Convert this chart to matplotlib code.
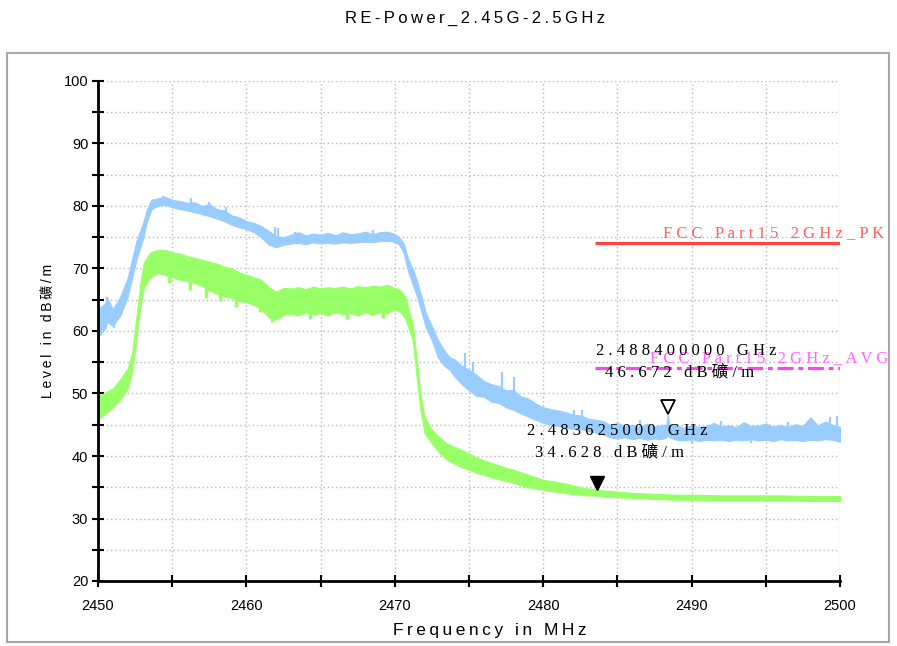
import matplotlib
matplotlib.use('Agg')
import matplotlib.pyplot as plt
from matplotlib.ticker import MultipleLocator
from matplotlib.patches import Rectangle
from matplotlib.transforms import offset_copy

blue_freq = [2450.0, 2450.5, 2450.6, 2451.0, 2451.5, 2452.0, 2452.3, 2452.6, 2453.0, 2453.3, 2453.6,
             2454.0, 2454.5, 2455.0, 2455.5, 2456.0, 2456.5, 2457.0, 2457.5, 2458.0, 2458.5, 2459.0, 2459.5,
             2460.0, 2460.5, 2461.0, 2461.5, 2462.0, 2462.5, 2463.0, 2463.5, 2464.0, 2464.5, 2465.0, 2465.5,
             2466.0, 2466.5, 2467.0, 2467.5, 2468.0, 2468.5, 2469.0, 2469.5, 2470.0, 2470.3, 2470.6, 2470.9,
             2471.2, 2471.5, 2471.8, 2472.1, 2472.5, 2472.9, 2473.3, 2473.7, 2474.0, 2474.5, 2475.0, 2475.5,
             2476.0, 2476.5, 2477.0, 2477.5, 2478.0, 2478.5, 2479.0, 2479.5, 2480.0, 2480.5, 2481.0, 2481.5,
             2482.0, 2482.5, 2483.0, 2483.5, 2484.0, 2484.5, 2485.0, 2485.5, 2486.0, 2486.5, 2487.0, 2487.5,
             2488.0, 2488.3, 2488.4, 2488.5, 2489.0, 2489.5, 2490.0, 2490.5, 2491.0, 2491.5, 2492.0, 2492.5,
             2493.0, 2493.5, 2494.0, 2494.5, 2495.0, 2495.5, 2496.0, 2496.5, 2497.0, 2497.5, 2498.0, 2498.5,
             2499.0, 2499.5, 2500.0]
blue_low = [59.0, 60.5, 61.5, 60.8, 62.5, 65.5, 68.5, 71.5, 74.5, 77.5, 79.5,
            80.0, 80.2, 79.8, 79.5, 79.3, 79.0, 78.7, 78.4, 78.0, 77.6, 77.0, 76.6,
            76.3, 75.8, 75.0, 73.8, 73.4, 73.8, 74.0, 74.1, 73.9, 74.2, 74.0, 74.1,
            74.0, 74.2, 74.1, 74.2, 74.3, 74.2, 74.4, 74.4, 74.3, 73.8, 72.5, 69.5,
            67.5, 65.5, 63.0, 60.5, 58.5, 55.8, 54.5, 53.8, 52.8, 51.5, 50.5, 49.6,
            49.5, 48.7, 48.5, 47.8, 47.4, 46.8, 46.3, 45.8, 45.3, 45.0, 44.8, 44.5,
            44.4, 44.3, 44.0, 43.8, 43.5, 43.0, 42.8, 43.0, 42.7, 42.9, 42.6, 42.8,
            42.7, 43.0, 43.5, 43.0, 42.6, 42.5, 42.7, 42.4, 42.6, 42.5, 42.6, 42.4,
            42.6, 42.5, 42.7, 42.5, 42.6, 42.4, 42.7, 42.5, 42.6, 42.4, 42.6, 42.5,
            42.7, 42.6, 42.3]
blue_high = [63.5, 64.5, 65.4, 63.5, 65.5, 68.5, 71.5, 74.5, 77.0, 79.5, 81.0,
             81.2, 81.5, 81.0, 80.8, 80.5, 80.6, 80.0, 80.3, 79.5, 79.3, 78.5, 78.2,
             77.6, 77.3, 76.8, 76.0, 75.2, 75.0, 75.4, 75.8, 75.3, 75.6, 75.4, 75.7,
             75.3, 75.8, 75.5, 75.6, 75.9, 75.5, 75.8, 75.9, 75.5, 75.0, 74.0, 71.5,
             70.0, 68.0, 65.5, 62.8, 60.8, 58.6, 57.0, 55.8, 55.5, 54.5, 53.8, 53.0,
             52.0, 51.5, 51.2, 50.5, 50.6, 49.5, 49.2, 48.4, 47.8, 47.5, 47.3, 47.0,
             46.6, 46.5, 46.0, 45.8, 45.6, 45.0, 45.3, 44.8, 45.0, 44.6, 45.2, 44.7,
             45.0, 45.0, 46.672, 45.0, 44.9, 44.5, 45.0, 44.6, 44.8, 45.3, 44.7, 44.9,
             44.6, 45.4, 44.8, 44.9, 45.2, 44.7, 45.0, 44.6, 45.1, 44.8, 46.2, 44.9,
             45.5, 45.0, 44.6]

# single narrow spikes of the blue trace (from, to)
spike_freq = [2450.6, 2451.1, 2454.4, 2456.3, 2457.5, 2458.6, 2458.7, 2461.9, 2462.1, 2463.3,
              2468.5, 2474.7, 2475.3, 2475.6, 2477.2, 2478.0, 2479.3, 2482.1, 2482.6,
              2486.5, 2490.0, 2492.0, 2494.0, 2496.5, 2499.3, 2499.8]
spike_from = [62.0, 62.5, 80.5, 79.5, 79.0, 78.5, 78.5, 74.5, 74.5, 74.5,
              74.8, 53.0, 52.0, 51.5, 50.5, 49.5, 48.0, 45.5, 45.5,
              44.0, 44.0, 44.0, 44.0, 44.0, 44.0, 44.0]
spike_to = [65.4, 60.5, 81.6, 81.3, 80.6, 79.8, 77.3, 76.6, 76.4, 75.8,
            76.1, 56.5, 55.0, 49.4, 53.4, 52.6, 46.9, 47.4, 47.3,
            45.8, 42.0, 45.6, 42.0, 45.5, 46.2, 46.4]

# average trace (light green)
green_freq = [2450.0, 2450.5, 2451.0, 2451.5, 2452.0, 2452.3, 2452.5, 2452.7, 2452.9, 2453.1, 2453.5,
              2454.0, 2454.5, 2455.0, 2455.5, 2456.0, 2456.5, 2457.0, 2457.5, 2458.0, 2458.5, 2459.0, 2459.5,
              2460.0, 2460.5, 2461.0, 2461.5, 2462.0, 2462.5, 2463.0, 2463.5, 2464.0, 2464.5, 2465.0, 2465.5,
              2466.0, 2466.5, 2467.0, 2467.5, 2468.0, 2468.5, 2469.0, 2469.5, 2470.0, 2470.4, 2470.7, 2471.0,
              2471.2, 2471.5, 2471.7, 2472.0, 2472.5, 2473.0, 2473.5, 2474.0, 2474.5, 2475.0, 2475.5, 2476.0,
              2476.5, 2477.0, 2477.5, 2478.0, 2478.5, 2479.0, 2479.5, 2480.0, 2480.5, 2481.0, 2481.5, 2482.0,
              2482.5, 2483.0, 2483.5, 2484.0, 2485.0, 2486.0, 2487.0, 2488.0, 2489.0, 2490.0, 2492.0, 2494.0,
              2496.0, 2498.0, 2500.0]
green_low = [45.8, 46.8, 47.8, 49.0, 50.8, 53.5, 57.0, 61.0, 64.5, 67.0, 68.5,
             69.3, 69.0, 68.6, 68.2, 68.0, 67.7, 67.2, 66.5, 66.0, 65.5, 65.3, 64.8,
             64.6, 64.2, 63.5, 62.2, 61.8, 62.6, 62.8, 62.5, 63.0, 62.6, 62.9, 62.5,
             63.0, 62.7, 62.9, 62.5, 63.0, 62.6, 63.0, 62.8, 63.5, 63.0, 62.0, 60.0,
             58.6, 52.0, 47.8, 43.7, 42.0, 40.5, 39.4, 38.8, 38.2, 37.8, 37.3, 37.0,
             36.6, 36.3, 36.0, 35.7, 35.3, 35.0, 34.8, 34.6, 34.4, 34.2, 34.1, 33.9,
             33.8, 33.7, 33.7, 33.5, 33.4, 33.3, 33.2, 33.1, 33.0, 33.0, 32.9, 32.9,
             32.9, 32.8, 32.8]
green_high = [49.5, 50.2, 50.8, 52.3, 54.0, 56.5, 60.5, 64.5, 68.5, 71.0, 72.5,
              73.0, 73.0, 72.6, 72.4, 72.0, 71.7, 71.4, 71.1, 70.8, 70.3, 70.0, 69.4,
              69.0, 68.6, 68.2, 67.0, 66.3, 66.9, 66.8, 67.0, 66.7, 67.1, 66.8, 67.0,
              66.9, 67.1, 66.8, 67.2, 67.0, 67.2, 67.1, 67.4, 66.9, 66.5, 65.5, 62.8,
              61.3, 55.0, 50.6, 46.2, 44.2, 43.0, 42.0, 41.5, 41.0, 40.4, 39.8, 39.3,
              38.9, 38.5, 38.1, 37.8, 37.4, 37.0, 36.6, 36.2, 36.0, 35.8, 35.6, 35.3,
              35.0, 34.8, 34.7, 34.5, 34.3, 34.1, 34.0, 33.9, 33.8, 33.8, 33.7, 33.7,
              33.7, 33.6, 33.6]

# downward teeth on the lower edge of the green band
dip_freq = [2454.8, 2456.2, 2457.3, 2458.2, 2459.3, 2460.9, 2461.7, 2464.3, 2466.8, 2469.2]
dip_from = [70.0, 69.0, 68.5, 67.5, 66.5, 65.5, 63.5, 64.0, 64.0, 64.0]
dip_to = [67.6, 66.6, 65.3, 64.8, 63.9, 63.0, 61.4, 61.9, 61.9, 62.0]

# limit lines
limit_freq = [2483.5, 2500.0]
pk_limit = 74.0
avg_limit = 54.0
pk_name = 'FCC Part15 2GHz_PK'
avg_name = 'FCC Part15 2GHz_AVG'

# markers: (MHz, dBuV/m)
peak_marker = (2488.4, 46.672)
avg_marker = (2483.625, 34.628)

serif = ['Liberation Serif', 'DejaVu Serif', 'Noto Sans CJK SC']
sans = ['Liberation Sans', 'DejaVu Sans', 'Noto Sans CJK SC']
plt.rcParams['font.family'] = sans


def spaced(s, sep=' '):
    return sep.join(s)


def readout(freq, level):
    return (spaced('%.9f GHz' % (freq / 1000.0)),
            spaced('%.3f dB礦/m' % level))


blue = '#99ccff'
green = '#99ff66'

fig = plt.figure(figsize=(8.97, 6.46), dpi=100)
fig.patches.append(Rectangle((7 / 897, 4 / 646), 882 / 897, 589 / 646, transform=fig.transFigure,
                             fill=False, edgecolor='#a8a8a8', lw=1.5))
ax = fig.add_axes([98 / 897, 65 / 646, 742 / 897, 500 / 646])

ax.fill_between(blue_freq, blue_low, blue_high, color=blue, lw=0.8, zorder=3)
ax.vlines(spike_freq, spike_from, spike_to, color=blue, lw=1.6, zorder=3)
ax.fill_between(green_freq, green_low, green_high, color=green, lw=0.8, zorder=3)
ax.vlines(dip_freq, dip_from, dip_to, color=green, lw=2.5, zorder=3)

ax.plot(limit_freq, [pk_limit, pk_limit], color='#ff4444', lw=2.3, solid_capstyle='butt', zorder=4)
ax.plot(limit_freq, [avg_limit, avg_limit], color='#ff44ee', lw=2.3, dashes=[5, 1.5, 1.5, 1.5],
        zorder=4)
ax.text(2488.07, 75.7, spaced(pk_name), color='#ff6060', family=serif, fontsize=12,
        va='center', clip_on=False, zorder=5)
ax.text(2487.2, 55.7, spaced(avg_name), color='#ff66ff', family=serif, fontsize=12,
        va='center', clip_on=False, zorder=5)

# marker triangles sit just above the point they mark
off = offset_copy(ax.transData, fig=fig, x=0, y=7, units='dots')
ax.plot(peak_marker[0], peak_marker[1], marker='v', ms=10, mfc='white', mec='black', mew=1.3,
        transform=off, zorder=6)
ax.plot(avg_marker[0], avg_marker[1], marker='v', ms=10, color='black', transform=off, zorder=6)

l1, l2 = readout(*peak_marker)
ax.text(2483.55, 56.8, l1, family=serif, fontsize=12, va='center', zorder=6)
ax.text(2484.16, 53.3, l2, family=serif, fontsize=12, va='center', zorder=6)
l1, l2 = readout(*avg_marker)
ax.text(2478.9, 44.0, l1, family=serif, fontsize=12, va='center', zorder=6)
ax.text(2479.45, 40.6, l2, family=serif, fontsize=12, va='center', zorder=6)

ax.set_xlim(2450, 2500)
ax.set_ylim(20, 100)
ax.xaxis.set_major_locator(MultipleLocator(10))
ax.xaxis.set_minor_locator(MultipleLocator(5))
ax.yaxis.set_major_locator(MultipleLocator(10))
ax.yaxis.set_minor_locator(MultipleLocator(5))
ax.grid(which='both', color='#b8b8b8', linestyle=(0, (1, 2)), lw=1)
ax.set_axisbelow(True)
for side in ['top', 'right']:
    ax.spines[side].set_visible(False)
for side in ['left', 'bottom']:
    ax.spines[side].set_linewidth(2)
    ax.spines[side].set_zorder(7)
ax.tick_params(which='both', direction='inout', length=8, width=1.5, labelsize=10.5)
ax.tick_params(axis='y', pad=3)
ax.tick_params(axis='x', pad=9)

fig.text(475 / 897, 1 - 18 / 646, spaced('RE-Power_2.45G-2.5GHz', '\u2009'), ha='center',
         va='center', fontsize=12)
fig.text(490 / 897, 1 - 631 / 646, spaced('Frequency in MHz', '\u2009'), ha='center',
         va='center', fontsize=12.5)
fig.text(48 / 897, 1 - 331 / 646, spaced('Level in dB礦/m', '\u2009'), ha='center',
         va='center', rotation=90, fontsize=10)

plt.savefig('out.png', dpi=100)
